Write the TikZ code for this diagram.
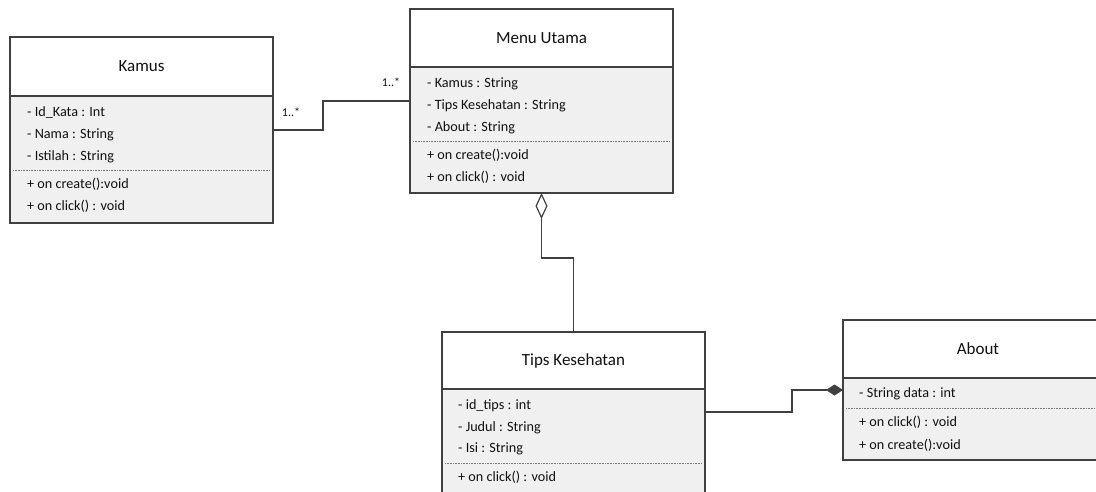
\documentclass[tikz,border=0pt]{standalone}
\usepackage{fontspec}
\setmainfont{Carlito}
\usetikzlibrary{arrows.meta}
\definecolor{linec}{HTML}{404040}
\definecolor{bodyc}{HTML}{F0F0F0}
\definecolor{textc}{HTML}{111111}
\tikzset{
  hdr/.style={draw=linec, line width=1.4pt, fill=white, outer sep=0pt, inner sep=0pt, font=\fontsize{17}{19}\selectfont, text=textc},
  bdy/.style={draw=linec, line width=1.4pt, fill=bodyc, outer sep=0pt, inner sep=0pt, anchor=north west},
  attr/.style={anchor=west, inner sep=0pt, font=\fontsize{14.2}{16}\selectfont, text=textc},
  mult/.style={inner sep=0pt, font=\fontsize{12}{13}\selectfont, text=textc},
  sep/.style={draw=linec!70, line width=0.8pt, dash pattern=on 0.8pt off 0.8pt},
  conn/.style={draw=linec, line width=1.4pt}
}
\begin{document}
\begin{tikzpicture}[x=1pt,y=-1pt]
\useasboundingbox (0,0) rectangle (1096,491);
\clip (0,0) rectangle (1096,491);
\fill[white] (0,0) rectangle (1096,491);
% Kamus
\node[bdy, minimum width=263pt, minimum height=127pt] (kamusB) at (10,96) {};
\node[hdr, anchor=north west, minimum width=263pt, minimum height=59pt] (kamusT) at (10,37) {Kamus};
\node[attr] (k1) at (27,113) {- Id\_Kata : Int};
\node[attr] (k2) at (27,135) {- Nama : String};
\node[attr] (k3) at (27,157) {- Istilah : String};
\draw[sep] (13,170) -- (270,170);
\node[attr] (k4) at (27,184) {+ on create():void};
\node[attr] (k5) at (27,206) {+ on click() : void};
% Menu Utama
\node[bdy, minimum width=263pt, minimum height=126pt] (menuB) at (410,67) {};
\node[hdr, anchor=north west, minimum width=263pt, minimum height=58pt] (menuT) at (410,9) {Menu Utama};
\node[attr] (m1) at (427,84) {- Kamus : String};
\node[attr] (m2) at (427,106) {- Tips Kesehatan : String};
\node[attr] (m3) at (427,128) {- About : String};
\draw[sep] (413,141.5) -- (670,141.5);
\node[attr] (m4) at (427,155) {+ on create():void};
\node[attr] (m5) at (427,177) {+ on click() : void};
% Tips Kesehatan
\node[bdy, minimum width=263pt, minimum height=140pt] (tipsB) at (442,389) {};
\node[hdr, anchor=north west, minimum width=263pt, minimum height=57pt] (tipsT) at (442,332) {Tips Kesehatan};
\node[attr] (t1) at (458,406) {- id\_tips : int};
\node[attr] (t2) at (458,428) {- Judul : String};
\node[attr] (t3) at (458,449) {- Isi : String};
\draw[sep] (445,463) -- (702,463);
\node[attr] (t4) at (458,477) {+ on click() : void};
% About
\node[bdy, minimum width=270pt, minimum height=82pt] (aboutB) at (843,378) {};
\node[hdr, anchor=north west, minimum width=270pt, minimum height=58pt] (aboutT) at (843,320) {About};
\node[attr] (a1) at (859,394) {- String data : int};
\draw[sep] (846,408) -- (1113,408);
\node[attr] (a2) at (859,422) {+ on click() : void};
\node[attr] (a3) at (859,445) {+ on create():void};
% Connectors
\draw[conn] ([yshift=-34pt]kamusB.north east) -- ++(50,0) |- ([yshift=-34pt]menuB.north west);
\node[mult] (mk) at (291,112) {1..*};
\node[mult] (mm) at (391,82) {1..*};
\draw[conn, {Diamond[open, length=26pt, width=12pt, line width=1.2pt]}-] (menuB.south) -- ++(0,65) -| (tipsT.north);
\draw[conn, -{Diamond[length=17pt, width=11pt]}] ([yshift=-23pt]tipsB.north east) -- ++(87,0) |- ([yshift=-12pt]aboutB.north west);
\end{tikzpicture}
\end{document}
